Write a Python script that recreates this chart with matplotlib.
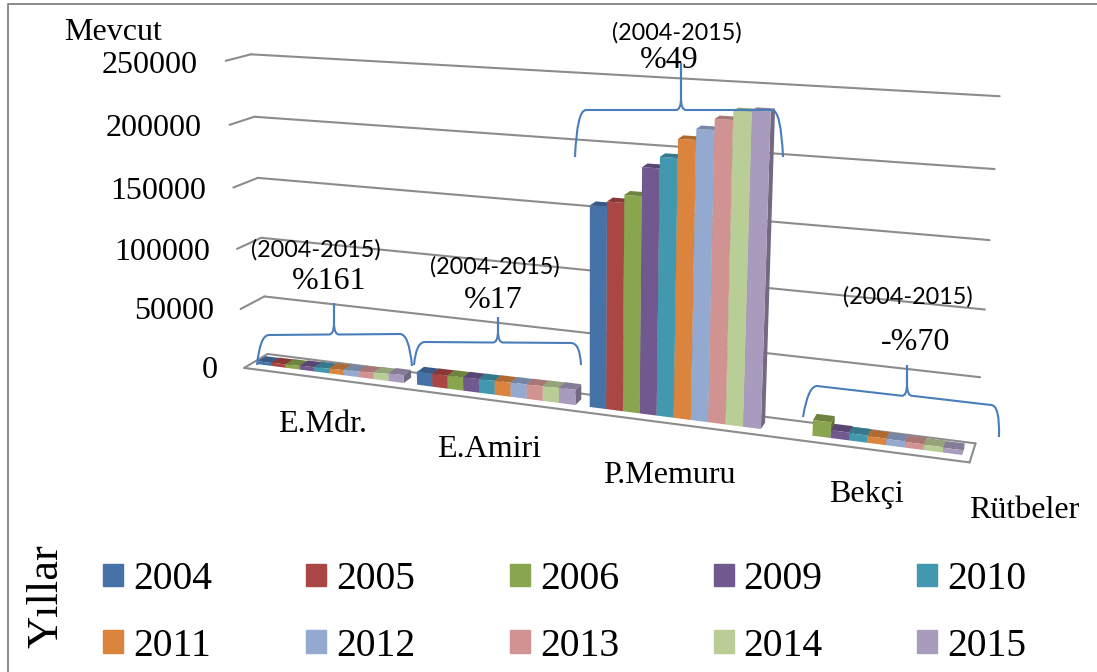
import numpy as np
import matplotlib
matplotlib.use("Agg")
import matplotlib.pyplot as plt
from matplotlib.lines import Line2D
from matplotlib.patches import Patch, PathPatch
from matplotlib.path import Path
from matplotlib.transforms import IdentityTransform
from mpl_toolkits.mplot3d import proj3d
from mpl_toolkits.mplot3d.art3d import Poly3DCollection

W, H = 1097, 672

years = ["2004", "2005", "2006", "2009", "2010", "2011", "2012", "2013", "2014", "2015"]
colors = ["#4572A7", "#AA4643", "#89A54E", "#71588F", "#4198AF",
          "#DB843D", "#93A9CF", "#D19392", "#B9CD96", "#A99BBD"]
ranks = ["E.Mdr.", "E.Amiri", "P.Memuru", "Bekçi"]
grid_values = [0, 50000, 100000, 150000, 200000, 250000]

e_mdr = [2500, 2800, 3100, 3500, 3900, 4300, 4800, 5300, 5900, 6500]
e_amiri = [10500, 10700, 10900, 11100, 11300, 11500, 11700, 11900, 12100, 12300]
p_memuru = [157000, 161000, 167000, 188500, 197000, 211000, 219000, 227000, 233500, 234500]
bekci = [np.nan, np.nan, 12000, 6000, 5500, 5000, 4700, 4300, 4000, 3600]
rank_values = [e_mdr, e_amiri, p_memuru, bekci]

# label centres, in pixels from the top left
rank_label_pos = [(323, 421), (489, 446), (669, 472), (866, 491)]
period_pos = [(316, 248), (495, 265), (677, 31), (908, 295)]
change_labels = ["%161", "%17", "%49", "-%70"]
change_pos = [(329, 278), (493, 297), (669, 57), (916, 339)]

# braces: left foot, left corner, tip, right corner, right foot
braces = [
    [(257, 365), (260, 335), (334, 303), (409, 334), (412, 366)],
    [(414, 365), (416, 342), (498, 317), (580, 343), (581, 365)],
    [(575, 157), (577, 110), (681, 63), (781, 110), (783, 157)],
    [(803, 417), (808, 386), (907, 365), (1000, 405), (999, 437)],
]

SERIF = "Liberation Serif"
GRAY = "#8c8c8c"
BLUE = "#4A7EBB"
BAR_WIDTH = 0.092
MARGIN = 0.035
DEPTH = (0.32, 0.68)

fig = plt.figure(figsize=(W / 100, H / 100), dpi=100)
ax = fig.add_axes([163.13 / W, 3.93 / H, 824.22 / W, 824.22 / H], projection="3d")
ax.set_xlim(0, 4, view_margin=0)
ax.set_ylim(0, 1, view_margin=0)
ax.set_zlim(0, 250000, view_margin=0)
ax.view_init(15.1482, -70.33, -0.0081)
ax.set_proj_type("persp", focal_length=0.3537)
ax.set_box_aspect((1, 0.0634, 0.4339))
ax.set_axis_off()
ax.computed_zorder = False


def line3d(xs, ys, zs):
    ax.plot(xs, ys, zs, color=GRAY, lw=1.5, clip_on=False, zorder=1, solid_capstyle="round")


# walls and floor outline
for v in grid_values:
    line3d([0, 0], [0, 1], [v, v])
    line3d([0, 4], [1, 1], [v, v])
line3d([0, 4], [0, 0], [0, 0])
line3d([4, 4], [0, 1], [0, 0])


def shade(color, k):
    return tuple(c * k for c in matplotlib.colors.to_rgb(color))


def add_bar(x0, x1, v, color, order):
    y0, y1 = DEPTH
    front = [(x0, y0, 0), (x1, y0, 0), (x1, y0, v), (x0, y0, v)]
    top = [(x0, y0, v), (x1, y0, v), (x1, y1, v), (x0, y1, v)]
    side = [(x1, y0, 0), (x1, y1, 0), (x1, y1, v), (x1, y0, v)]
    poly = Poly3DCollection([side, top, front], zsort="average",
                            facecolors=[shade(color, 0.68), shade(color, 0.8), color],
                            edgecolors="none", linewidths=0)
    poly.set_clip_on(False)
    poly.set_zorder(order)
    ax.add_collection3d(poly, autolim=False)


order = 2
for i, values in enumerate(rank_values):
    for j, v in enumerate(values):
        if np.isnan(v):
            continue
        x0 = i + MARGIN + j * BAR_WIDTH
        add_bar(x0, x0 + BAR_WIDTH, v, colors[j], order)
        order += 1


def px_text(x, y, s, ha="center", va="center_baseline", **kw):
    fig.text(x / W, 1 - y / H, s, ha=ha, va=va, **kw)


# value labels sit left of the front wall edge
proj = ax.get_proj()
for v in grid_values:
    u, w, _ = proj3d.proj_transform(-0.172, 0, v, proj)
    px, py = ax.transData.transform((u, w))
    px_text(px, H - py + 2.5, str(v), ha="right", family=SERIF, fontsize=23)

px_text(113, 29, "Mevcut", family=SERIF, fontsize=23)
px_text(1024, 507, "Rütbeler", family=SERIF, fontsize=23)
px_text(46, 596, "Yıllar", va="center", family=SERIF, fontsize=32, rotation=90)
for s, p in zip(ranks, rank_label_pos):
    px_text(p[0], p[1], s, family=SERIF, fontsize=23)
for p in period_pos:
    px_text(p[0], p[1], "(2004-2015)", family="Lato", fontsize=16.8)
for s, p in zip(change_labels, change_pos):
    px_text(p[0], p[1], s, family=SERIF, fontsize=23)


def brace_path(points):
    (fx0, fy0), (cx0, cy0), (tx, ty), (cx1, cy1), (fx1, fy1) = [(x, H - y) for x, y in points]
    mid = cy0 + (cy1 - cy0) * (tx - cx0) / (cx1 - cx0)
    verts = [(fx0, fy0), (cx0, cy0), (cx0 + 9, cy0), (tx - 5, mid), (tx, mid), (tx, mid + 12),
             (tx, ty), (tx, mid + 12), (tx, mid), (tx + 5, mid), (cx1 - 9, cy1), (cx1, cy1), (fx1, fy1)]
    codes = [Path.MOVETO, Path.CURVE3, Path.CURVE3, Path.LINETO, Path.CURVE3, Path.CURVE3,
             Path.LINETO, Path.LINETO, Path.CURVE3, Path.CURVE3, Path.LINETO, Path.CURVE3, Path.CURVE3]
    return Path(verts, codes)


for b in braces:
    fig.add_artist(PathPatch(brace_path(b), transform=IdentityTransform(), fc="none", ec=BLUE, lw=1.5, zorder=5))

# outer frame, left and top only
fig.add_artist(Line2D([8 / W, 8 / W, 1], [0, 1 - 3.5 / H, 1 - 3.5 / H], color="#8a8a8a", lw=1.4))

handles = [Patch(color=c, label=y) for c, y in zip(colors, years)]
# legend fills columns first, so pair the two rows up
ordered = [h for c in range(5) for h in (handles[c], handles[c + 5])]
fig.legend(handles=ordered, ncol=5, loc="upper left", bbox_to_anchor=(103 / W, 1 - 561 / H),
           bbox_transform=fig.transFigure, frameon=False, borderpad=0, borderaxespad=0,
           prop={"family": SERIF, "size": 28.5}, handlelength=0.505, handleheight=0.505,
           handletextpad=0.25, columnspacing=2.39, labelspacing=0.75)

fig.savefig("out.png", dpi=100)
